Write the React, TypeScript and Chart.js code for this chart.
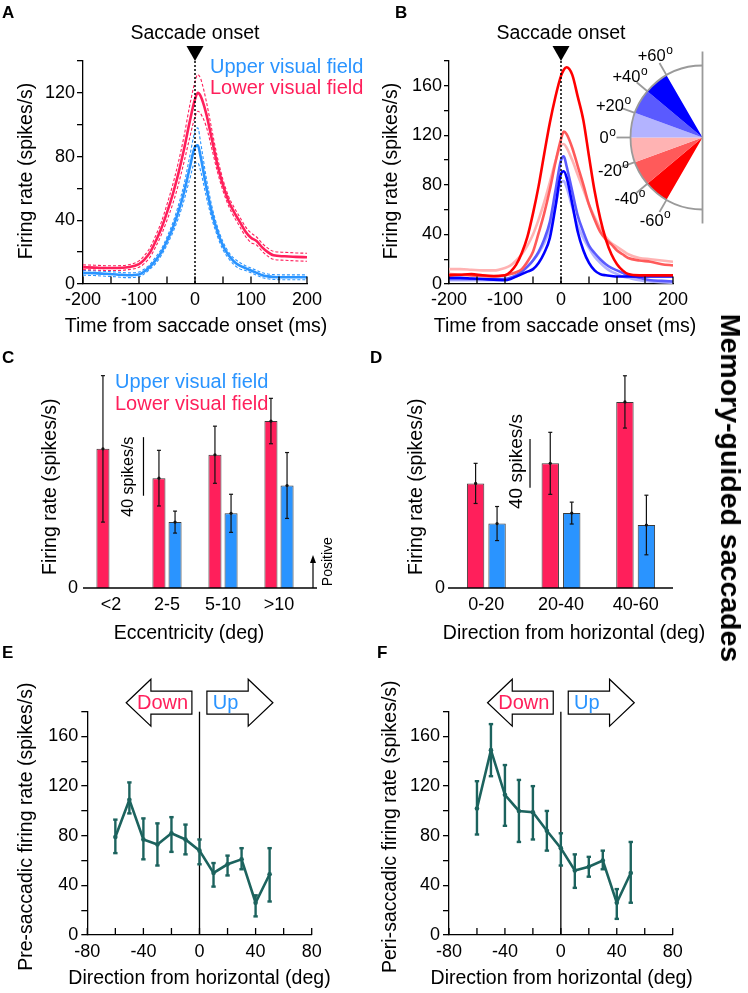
import React, { useEffect, useRef } from 'react';
import { Chart, registerables } from 'chart.js';

Chart.register(...registerables);

const FAMILY = '"Liberation Sans", Arial, Helvetica, sans-serif';
Chart.defaults.font.family = FAMILY;
Chart.defaults.color = '#000';

const RED = '#ff1f5b';
const BLUE = '#2a94ff';
const TEAL = '#1c635e';
const BAR_EDGE = '#3a3a3a';
const AXIS_W = 1.3;
const TITLE_SIZE = 19.5;
const TICK_SIZE = 18;

// ---------------- Panel A: upper vs lower visual field ----------------
const timeA = [-200, -180, -160, -140, -120, -100, -90, -80, -70, -60, -50, -40, -30, -20, -10, 0, 5, 10, 20, 30, 40, 50, 60, 70, 80, 90, 100, 110, 120, 130, 140, 160, 180, 200];
const lowerFieldMeanA = [10.5, 10.3, 10, 10, 10.5, 12.5, 15.5, 20, 27, 35, 45, 56, 69, 84, 101, 116, 120, 118, 107, 91, 75, 62, 52, 45, 39, 33, 29, 27, 23, 20, 18, 17.4, 17, 16.8];
const lowerFieldSemA = [1.5, 1.5, 1.5, 1.5, 1.5, 2, 2.5, 3, 3.5, 4, 5, 6, 7, 8, 10, 11, 11.5, 11, 8, 6, 4.5, 3.5, 3, 3, 3, 3, 3, 2.5, 2.5, 2.5, 2.5, 2.5, 2.5, 2.5];
const upperFieldMeanA = [7, 6.8, 6.4, 6, 5.5, 6, 8, 11, 15, 20, 27, 35, 45, 57, 72, 86, 87, 80, 61, 45, 33, 24, 18, 14, 11.5, 10, 8.5, 7, 5.5, 4.8, 4.4, 4.2, 4.2, 4.2];
const upperFieldSemA = [1.5, 1.5, 1.5, 1.5, 1.5, 1.5, 1.5, 1.5, 2, 2, 2.5, 3, 4, 5, 7, 10, 11, 9, 6, 4, 3, 2.5, 2, 2, 2, 1.5, 1.5, 1.5, 1.5, 1.5, 1.5, 1.5, 1.5, 1.5];

// ---------------- Panel B: by direction bin ----------------
const timeB = [-200, -180, -160, -140, -120, -100, -90, -80, -70, -60, -50, -40, -30, -20, -10, 0, 5, 10, 20, 30, 40, 50, 60, 70, 80, 90, 100, 110, 120, 140, 160, 180, 200];
const rateDown60 = [7, 7.5, 8, 7, 6.5, 7, 10, 15.6, 25, 38, 57, 79, 105, 130, 151, 168, 173, 175, 169, 151, 132, 103, 75, 53, 36, 24, 16, 11, 8, 7, 7, 7, 7];
const rateDown40 = [8, 7.5, 7, 6.5, 6, 7, 8, 9.5, 12, 18, 26, 41, 57, 76, 98, 117, 123, 121, 110, 95, 80, 64, 52, 42, 36, 32, 27, 24, 21, 19, 18, 16, 15];
const rateDown20 = [12, 12, 11.5, 11, 11, 13, 15, 19, 24, 31, 40, 52, 66, 82, 99, 112, 113, 110, 100, 88, 76, 64, 54, 45, 38, 33, 30, 27, 24, 21, 20, 19, 18];
const rateUp20 = [3, 3, 3, 3, 3, 4, 5, 7, 10, 14, 19, 25, 33, 45, 63, 82, 83, 78, 62, 47, 37, 29, 22, 17, 13, 10, 8, 6, 5, 3, 2, 1.5, 1];
const rateUp40 = [4, 4, 4, 4, 4, 4, 5, 7, 10, 14, 19, 26, 36, 50, 75, 100, 103, 95, 75, 55, 42, 31, 25, 20, 16, 13, 11, 9, 7, 5, 3, 2.5, 2];
const rateUp60 = [5, 5, 4.5, 4, 3.5, 3, 4, 6, 8, 10, 12, 17, 25, 37, 62, 89, 91, 86, 65, 42, 27, 17, 11, 8, 7, 6.5, 6, 6, 6, 6, 6, 6, 6];

// inset (direction wedges)
const insetSpanDeg = [20, 20, 20, 20, 20, 20];
const insetColors = ['#ff0000', '#ff5a5a', '#ffb3b3', '#b3b3ff', '#5a5aff', '#0000ff'];
const insetTickDeg = [60, 40, 20, 0, -20, -40, -60];
const insetTickText = ['+60', '+40', '+20', '0', '-20', '-40', '-60'];

// ---------------- Panel C: eccentricity ----------------
const eccCats = ['<2', '2-5', '5-10', '>10'];
const eccLower = [95, 75, 91, 114];
const eccLowerErr = [50, 19, 19.5, 15.5];
const eccUpper = [null, 45, 51, 70];
const eccUpperErr = [null, 7.5, 13, 22.5];

// ---------------- Panel D: direction ----------------
const dirCats = ['0-20', '20-40', '40-60'];
const dirLower = [86, 102.5, 153];
const dirLowerErr = [16.5, 25.5, 21.5];
const dirUpper = [53, 61.6, 51.8];
const dirUpperErr = [14, 9, 24.5];

// ---------------- Panels E / F ----------------
const dirBins = [-60, -50, -40, -30, -20, -10, 0, 10, 20, 30, 40, 50];
const preRate = [79, 109, 77, 73, 82, 77, 68, 50, 57, 61, 26, 49];
const preHi = [93, 123, 94, 90, 95, 89, 77, 58, 64, 70, 32, 70];
const preLo = [66, 98, 61, 56, 67, 65, 57, 39, 48, 53, 15, 27];
const periRate = [102, 149, 113, 100, 99, 84, 70, 52, 55, 60, 26, 50];
const periHi = [124, 170, 137, 125, 120, 100, 82, 65, 63, 68, 37, 75];
const periLo = [81, 128, 88, 75, 77, 68, 56, 38, 47, 53, 13, 26];

// ---------------- helpers ----------------
type TxtOpt = { color?: string; align?: CanvasTextAlign; baseline?: CanvasTextBaseline; rot?: number; bold?: boolean };
function txt(ctx: CanvasRenderingContext2D, s: string, x: number, y: number, size: number, o: TxtOpt = {}) {
  ctx.save();
  ctx.font = `${o.bold ? 'bold ' : ''}${size}px ${FAMILY}`;
  ctx.fillStyle = o.color || '#000';
  ctx.textAlign = o.align || 'center';
  ctx.textBaseline = o.baseline || 'alphabetic';
  ctx.translate(x, y);
  if (o.rot) ctx.rotate(o.rot);
  ctx.fillText(s, 0, 0);
  ctx.restore();
}
function seg(ctx: CanvasRenderingContext2D, x1: number, y1: number, x2: number, y2: number) {
  ctx.beginPath();
  ctx.moveTo(x1, y1);
  ctx.lineTo(x2, y2);
  ctx.stroke();
}
function axisTitles(ctx: CanvasRenderingContext2D, xTitle: string, xCenter: number, xBase: number, yTitle: string, yBase: number, yCenter: number) {
  txt(ctx, xTitle, xCenter, xBase, TITLE_SIZE);
  txt(ctx, yTitle, yBase, yCenter, TITLE_SIZE, { rot: -Math.PI / 2 });
}
function inwardXTicks(chart: any, len: number) {
  const s = chart.scales.x;
  const ctx = chart.ctx;
  const b = chart.chartArea.bottom;
  ctx.save();
  ctx.strokeStyle = '#000';
  ctx.lineWidth = AXIS_W;
  s.ticks.forEach((t: any) => {
    const px = s.getPixelForValue(t.value);
    seg(ctx, px, b, px, b - len);
  });
  ctx.restore();
}
function onsetMarker(chart: any) {
  const ctx = chart.ctx;
  const { top, bottom } = chart.chartArea;
  const x0 = chart.scales.x.getPixelForValue(0);
  ctx.save();
  ctx.strokeStyle = '#000';
  ctx.lineWidth = 1.5;
  ctx.setLineDash([2, 2]);
  seg(ctx, x0, top, x0, bottom);
  ctx.setLineDash([]);
  ctx.fillStyle = '#000';
  ctx.beginPath();
  ctx.moveTo(x0, top);
  ctx.lineTo(x0 - 8.5, top - 15);
  ctx.lineTo(x0 + 8.5, top - 15);
  ctx.closePath();
  ctx.fill();
  ctx.restore();
  txt(ctx, 'Saccade onset', x0, top - 21.7, 19.5);
}
function lineDs(xs: number[], ys: number[], color: string, width: number, dash?: number[]) {
  return {
    data: xs.map((x, i) => ({ x, y: ys[i] })),
    borderColor: color,
    borderWidth: width,
    borderDash: dash || [],
    pointRadius: 0,
    fill: false,
    cubicInterpolationMode: 'monotone',
  };
}
function linearX(min: number, max: number, step: number, labelEvery: number, height: number, tickPad: number) {
  return {
    type: 'linear',
    min,
    max,
    ticks: {
      stepSize: step,
      autoSkip: false,
      maxRotation: 0,
      padding: tickPad,
      font: { size: TICK_SIZE },
      color: '#000',
      callback: (v: number) => (Math.abs(v % labelEvery) < 1e-9 ? String(v) : ''),
    },
    grid: { display: true, drawOnChartArea: false, drawTicks: false },
    border: { display: true, color: '#000', width: AXIS_W },
    title: { display: false },
    afterFit: (s: any) => {
      s.height = height;
    },
  };
}
function linearY(min: number, max: number, step: number, labelEvery: number, labelMax: number, width: number, tickLen: number, tickPad: number) {
  return {
    type: 'linear',
    min,
    max,
    ticks: {
      stepSize: step,
      autoSkip: false,
      padding: tickPad,
      font: { size: TICK_SIZE },
      color: '#000',
      callback: (v: number) => (v % labelEvery === 0 && v <= labelMax ? String(v) : ''),
    },
    grid: { display: true, drawOnChartArea: false, drawTicks: true, tickLength: tickLen, color: '#000', lineWidth: AXIS_W },
    border: { display: true, color: '#000', width: AXIS_W },
    title: { display: false },
    afterFit: (s: any) => {
      s.width = width;
    },
  };
}
function baseOpts(padding: any, scales: any) {
  return {
    responsive: false,
    maintainAspectRatio: false,
    animation: false,
    events: [],
    layout: { padding: { left: 0, top: 0, right: 0, bottom: 0, ...padding } },
    plugins: { legend: { display: false }, tooltip: { enabled: false } },
    scales,
  };
}
function barErrors(chart: any, means: (number | null)[][], errs: (number | null)[][]) {
  const ctx = chart.ctx;
  const ys = chart.scales.y;
  ctx.save();
  ctx.strokeStyle = '#111';
  ctx.fillStyle = '#111';
  ctx.lineWidth = 1.2;
  means.forEach((arr, di) => {
    const meta = chart.getDatasetMeta(di);
    arr.forEach((m, j) => {
      const e = errs[di][j];
      if (m == null || e == null) return;
      const x = meta.data[j].x;
      const yt = ys.getPixelForValue(m + e);
      const yb = ys.getPixelForValue(m - e);
      const ym = ys.getPixelForValue(m);
      seg(ctx, x, yt, x, yb);
      seg(ctx, x - 2, yt, x + 2, yt);
      seg(ctx, x - 2, yb, x + 2, yb);
      ctx.beginPath();
      ctx.arc(x, ym, 1.6, 0, Math.PI * 2);
      ctx.fill();
    });
  });
  ctx.restore();
}
function blockArrow(ctx: CanvasRenderingContext2D, tipX: number, headX: number, tailX: number, cy: number) {
  const hh = 23.5;
  const bh = 11.5;
  ctx.save();
  ctx.beginPath();
  ctx.moveTo(tipX, cy);
  ctx.lineTo(headX, cy - hh);
  ctx.lineTo(headX, cy - bh);
  ctx.lineTo(tailX, cy - bh);
  ctx.lineTo(tailX, cy + bh);
  ctx.lineTo(headX, cy + bh);
  ctx.lineTo(headX, cy + hh);
  ctx.closePath();
  ctx.fillStyle = '#fff';
  ctx.fill();
  ctx.strokeStyle = '#000';
  ctx.lineWidth = 1.2;
  ctx.stroke();
  ctx.restore();
}
function degLabel(ctx: CanvasRenderingContext2D, s: string, cx: number, cy: number) {
  ctx.save();
  ctx.font = `16.5px ${FAMILY}`;
  const w1 = ctx.measureText(s).width;
  ctx.font = `12px ${FAMILY}`;
  const w2 = ctx.measureText('o').width;
  const x = cx - (w1 + w2) / 2;
  ctx.fillStyle = '#000';
  ctx.textAlign = 'left';
  ctx.textBaseline = 'alphabetic';
  ctx.font = `16.5px ${FAMILY}`;
  ctx.fillText(s, x, cy + 5.8);
  ctx.font = `12px ${FAMILY}`;
  ctx.fillText('o', x + w1 + 0.5, cy - 1.5);
  ctx.restore();
}

// ---------------- plugins ----------------
const decorA = {
  id: 'decorA',
  afterDatasetsDraw(chart: any) {
    const ctx = chart.ctx;
    inwardXTicks(chart, 7.5);
    onsetMarker(chart);
    const x0 = chart.scales.x.getPixelForValue(0);
    txt(ctx, 'Upper visual field', x0 + 15, 72.7, 20, { color: BLUE, align: 'left' });
    txt(ctx, 'Lower visual field', x0 + 15, 94.3, 20, { color: RED, align: 'left' });
    axisTitles(ctx, 'Time from saccade onset (ms)', 196, 332.3, 'Firing rate (spikes/s)', 32.3, 171);
  },
};
const decorB = {
  id: 'decorB',
  afterDatasetsDraw(chart: any) {
    inwardXTicks(chart, 7.5);
    onsetMarker(chart);
    axisTitles(chart.ctx, 'Time from saccade onset (ms)', 195, 332.3, 'Firing rate (spikes/s)', 27.3, 171);
  },
};
const insetDecor = {
  id: 'insetDecor',
  afterDatasetsDraw(chart: any) {
    const ctx = chart.ctx;
    const arc = chart.getDatasetMeta(0).data[0];
    const cx = arc.x;
    const cy = arc.y;
    const r = arc.outerRadius;
    ctx.save();
    ctx.strokeStyle = '#9a9a9a';
    ctx.lineWidth = 1.8;
    ctx.beginPath();
    ctx.arc(cx, cy, r, Math.PI / 2, Math.PI * 1.5);
    ctx.stroke();
    seg(ctx, cx, cy - 86, cx, cy + 86);
    insetTickDeg.forEach((d, i) => {
      const a = Math.PI + (d * Math.PI) / 180;
      seg(ctx, cx + r * Math.cos(a), cy + r * Math.sin(a), cx + (r + 14) * Math.cos(a), cy + (r + 14) * Math.sin(a));
      degLabel(ctx, insetTickText[i], cx + 95 * Math.cos(a), cy + 95 * Math.sin(a));
    });
    ctx.restore();
  },
};
const decorC = {
  id: 'decorC',
  afterDatasetsDraw(chart: any) {
    const ctx = chart.ctx;
    const { left, bottom } = chart.chartArea;
    const xs = chart.scales.x;
    const ys = chart.scales.y;
    ctx.save();
    ctx.strokeStyle = '#000';
    ctx.lineWidth = AXIS_W;
    seg(ctx, left, bottom, left + 234, bottom);
    ctx.restore();
    barErrors(chart, [eccLower, eccUpper], [eccLowerErr, eccUpperErr]);
    // scale bar
    const sx = xs.getPixelForValue(0.58);
    ctx.save();
    ctx.strokeStyle = '#000';
    ctx.lineWidth = 1.2;
    seg(ctx, sx, ys.getPixelForValue(63), sx, ys.getPixelForValue(103));
    // positive arrow
    const ax = left + 230;
    seg(ctx, ax, bottom, ax, bottom - 26);
    ctx.fillStyle = '#000';
    ctx.beginPath();
    ctx.moveTo(ax, bottom - 33);
    ctx.lineTo(ax - 3, bottom - 25);
    ctx.lineTo(ax + 3, bottom - 25);
    ctx.closePath();
    ctx.fill();
    ctx.restore();
    txt(ctx, '40 spikes/s', sx - 10.1, ys.getPixelForValue(76), 16, { rot: -Math.PI / 2 });
    txt(ctx, 'Positive', left + 248.7, bottom - 26.3, 14, { rot: -Math.PI / 2 });
    txt(ctx, 'Upper visual field', 115, 48.3, 20, { color: BLUE, align: 'left' });
    txt(ctx, 'Lower visual field', 115, 70, 20, { color: RED, align: 'left' });
    axisTitles(ctx, 'Eccentricity (deg)', 189, 299, 'Firing rate (spikes/s)', 55.7, 146.7);
  },
};
const decorD = {
  id: 'decorD',
  afterDatasetsDraw(chart: any) {
    const ctx = chart.ctx;
    const { left, right, bottom } = chart.chartArea;
    const xs = chart.scales.x;
    const ys = chart.scales.y;
    ctx.save();
    ctx.strokeStyle = '#000';
    ctx.lineWidth = AXIS_W;
    seg(ctx, left - 1, bottom, right, bottom);
    ctx.restore();
    barErrors(chart, [dirLower, dirUpper], [dirLowerErr, dirUpperErr]);
    const sx = xs.getPixelForValue(0.585);
    ctx.save();
    ctx.strokeStyle = '#000';
    ctx.lineWidth = 1.2;
    seg(ctx, sx, ys.getPixelForValue(82.5), sx, ys.getPixelForValue(122.5));
    ctx.restore();
    txt(ctx, '40 spikes/s', sx - 8, ys.getPixelForValue(104), 19, { rot: -Math.PI / 2 });
    axisTitles(ctx, 'Direction from horizontal (deg)', 204, 299, 'Firing rate (spikes/s)', 52.3, 146.7);
  },
};
function dirDecor(hi: number[], lo: number[], yTitle: string, yBase: number, xCenter: number) {
  return {
    id: 'dirDecor',
    beforeDatasetsDraw(chart: any) {
      const ctx = chart.ctx;
      const { top, bottom } = chart.chartArea;
      const x0 = chart.scales.x.getPixelForValue(0);
      ctx.save();
      ctx.strokeStyle = '#000';
      ctx.lineWidth = 1.3;
      seg(ctx, x0, top, x0, bottom);
      ctx.restore();
    },
    afterDatasetsDraw(chart: any) {
      const ctx = chart.ctx;
      const xs = chart.scales.x;
      const ys = chart.scales.y;
      const { top } = chart.chartArea;
      inwardXTicks(chart, 7);
      ctx.save();
      ctx.strokeStyle = TEAL;
      ctx.lineWidth = 2.4;
      dirBins.forEach((d, i) => {
        const x = xs.getPixelForValue(d);
        const y1 = ys.getPixelForValue(hi[i]);
        const y2 = ys.getPixelForValue(lo[i]);
        seg(ctx, x, y1, x, y2);
        seg(ctx, x - 2.2, y1, x + 2.2, y1);
        seg(ctx, x - 2.2, y2, x + 2.2, y2);
      });
      ctx.restore();
      const x0 = xs.getPixelForValue(0);
      const cy = top - 9;
      blockArrow(ctx, x0 - 73.3, x0 - 48.6, x0 - 7.6, cy);
      blockArrow(ctx, x0 + 73.4, x0 + 48.7, x0 + 7.4, cy);
      txt(ctx, 'Down', x0 - 37, top - 2.4, 20, { color: RED });
      txt(ctx, 'Up', x0 + 26, top - 2.4, 20, { color: BLUE });
      axisTitles(ctx, 'Direction from horizontal (deg)', xCenter, 344, yTitle, yBase, 186.7);
    },
  };
}

// ---------------- configs ----------------
const cfgA = (): any => ({
  type: 'line',
  data: {
    datasets: [
      lineDs(timeA, lowerFieldMeanA, RED, 2.6),
      lineDs(timeA, lowerFieldMeanA.map((m, i) => m + lowerFieldSemA[i]), RED, 1.1, [3, 2]),
      lineDs(timeA, lowerFieldMeanA.map((m, i) => m - lowerFieldSemA[i]), RED, 1.1, [3, 2]),
      lineDs(timeA, upperFieldMeanA, BLUE, 2.6),
      lineDs(timeA, upperFieldMeanA.map((m, i) => m + upperFieldSemA[i]), BLUE, 1.1, [3, 2]),
      lineDs(timeA, upperFieldMeanA.map((m, i) => m - upperFieldSemA[i]), BLUE, 1.1, [3, 2]),
    ],
  },
  options: baseOpts(
    { top: 61, right: 63 },
    {
      x: linearX(-200, 200, 50, 100, 56, 5),
      y: linearY(0, 140, 20, 40, 120, 83, 6, 2),
    }
  ),
  plugins: [decorA],
});

const cfgB = (): any => ({
  type: 'line',
  data: {
    datasets: [
      lineDs(timeB, rateDown60, insetColors[0], 2.6),
      lineDs(timeB, rateDown40, insetColors[1], 2.6),
      lineDs(timeB, rateDown20, insetColors[2], 2.6),
      lineDs(timeB, rateUp60, insetColors[5], 2.6),
      lineDs(timeB, rateUp40, insetColors[4], 2.6),
      lineDs(timeB, rateUp20, insetColors[3], 2.6),
    ],
  },
  options: baseOpts(
    { top: 61, right: 47 },
    {
      x: linearX(-200, 200, 50, 100, 56, 5),
      y: linearY(0, 180, 20, 40, 160, 79, 5, 2),
    }
  ),
  plugins: [decorB],
});

const cfgInset = (): any => ({
  type: 'pie',
  data: {
    labels: ['-60 to -40', '-40 to -20', '-20 to 0', '0 to +20', '+20 to +40', '+40 to +60'],
    datasets: [
      {
        data: insetSpanDeg,
        backgroundColor: insetColors,
        borderWidth: 0,
        radius: 72,
        rotation: 210,
        circumference: 120,
      },
    ],
  },
  options: {
    ...baseOpts({}, {}),
    rotation: 210,
    circumference: 120,
    radius: 72,
  },
  plugins: [insetDecor],
});

function barCfg(labels: string[], lower: (number | null)[], upper: (number | null)[], pad: any, yMax: number, yWidth: number, yPad: number, plugin: any): any {
  return {
    type: 'bar',
    data: {
      labels,
      datasets: [
        { data: lower, backgroundColor: RED, borderColor: BAR_EDGE, borderWidth: 1, categoryPercentage: 0.575, barPercentage: 0.81 },
        { data: upper, backgroundColor: BLUE, borderColor: BAR_EDGE, borderWidth: 1, categoryPercentage: 0.575, barPercentage: 0.81 },
      ],
    },
    options: baseOpts(pad, {
      x: {
        type: 'category',
        ticks: { padding: 6, font: { size: TICK_SIZE }, color: '#000', maxRotation: 0, autoSkip: false },
        grid: { display: false, drawTicks: false },
        border: { display: false },
        afterFit: (s: any) => {
          s.height = 62;
        },
      },
      y: {
        type: 'linear',
        min: 0,
        max: yMax,
        ticks: { stepSize: 1000, padding: yPad, font: { size: TICK_SIZE }, color: '#000', callback: (v: number) => (v === 0 ? '0' : '') },
        grid: { display: false, drawTicks: false },
        border: { display: false },
        afterFit: (s: any) => {
          s.width = yWidth;
        },
      },
    }),
    plugins: [plugin],
  };
}
const cfgC = () => barCfg(eccCats, eccLower, eccUpper, { top: 21, right: 63 }, 155, 83, 5, decorC);
const cfgD = () => barCfg(dirCats, dirLower, dirUpper, { top: 23, right: 47 }, 185, 79, 4, decorD);

function dirCfg(rate: number[], hi: number[], lo: number[], right: number, yWidth: number, yTitle: string, yBase: number, xCenter: number): any {
  return {
    type: 'line',
    data: {
      datasets: [
        {
          data: dirBins.map((d, i) => ({ x: d, y: rate[i] })),
          borderColor: TEAL,
          borderWidth: 2.6,
          pointRadius: 2.3,
          pointBackgroundColor: TEAL,
          pointBorderWidth: 0,
          tension: 0,
          fill: false,
        },
      ],
    },
    options: baseOpts(
      { top: 71.7, right },
      {
        x: linearX(-80, 80, 20, 40, 58, 6),
        y: linearY(0, 180, 20, 40, 160, yWidth, 6, 3),
      }
    ),
    plugins: [dirDecor(hi, lo, yTitle, yBase, xCenter)],
  };
}
const cfgE = () => dirCfg(preRate, preHi, preLo, 58.3, 87.3, 'Pre-saccadic firing rate (spikes/s)', 32.3, 199.5);
const cfgF = () => dirCfg(periRate, periHi, periLo, 47.3, 79, 'Peri-saccadic firing rate (spikes/s)', 25.7, 191.7);

// ---------------- components ----------------
function ChartCanvas({ left, top, width, height, make }: { left: number; top: number; width: number; height: number; make: () => any }) {
  const ref = useRef<HTMLCanvasElement>(null);
  useEffect(() => {
    const chart = new Chart(ref.current as HTMLCanvasElement, make());
    return () => chart.destroy();
  }, []);
  return <canvas ref={ref} width={width} height={height} style={{ position: 'absolute', left, top, width, height }} />;
}

function Letter({ ch, left, top }: { ch: string; left: number; top: number }) {
  return (
    <div style={{ position: 'absolute', left, top, fontSize: 17, lineHeight: '17px', fontWeight: 'bold', fontFamily: FAMILY }}>{ch}</div>
  );
}

export default function App() {
  return (
    <div style={{ position: 'absolute', left: 0, top: 0, width: 748, height: 993, background: '#fff', overflow: 'hidden', fontFamily: FAMILY }}>
      <ChartCanvas left={0} top={0} width={370} height={340} make={cfgA} />
      <ChartCanvas left={370} top={0} width={350} height={340} make={cfgB} />
      <ChartCanvas left={585} top={40} width={163} height={195} make={cfgInset} />
      <ChartCanvas left={0} top={340} width={370} height={310} make={cfgC} />
      <ChartCanvas left={370} top={340} width={350} height={310} make={cfgD} />
      <ChartCanvas left={0} top={640} width={370} height={353} make={cfgE} />
      <ChartCanvas left={370} top={640} width={350} height={353} make={cfgF} />
      <Letter ch="A" left={2} top={4} />
      <Letter ch="B" left={395} top={4} />
      <Letter ch="C" left={2} top={349} />
      <Letter ch="D" left={370} top={349} />
      <Letter ch="E" left={2} top={644} />
      <Letter ch="F" left={377} top={644} />
      <div
        style={{
          position: 'absolute',
          left: 731,
          top: 488,
          transform: 'translate(-50%, -50%) rotate(90deg)',
          fontWeight: 'bold',
          fontSize: 28.5,
          lineHeight: '30px',
          whiteSpace: 'nowrap',
          fontFamily: FAMILY,
        }}
      >
        Memory-guided saccades
      </div>
    </div>
  );
}
